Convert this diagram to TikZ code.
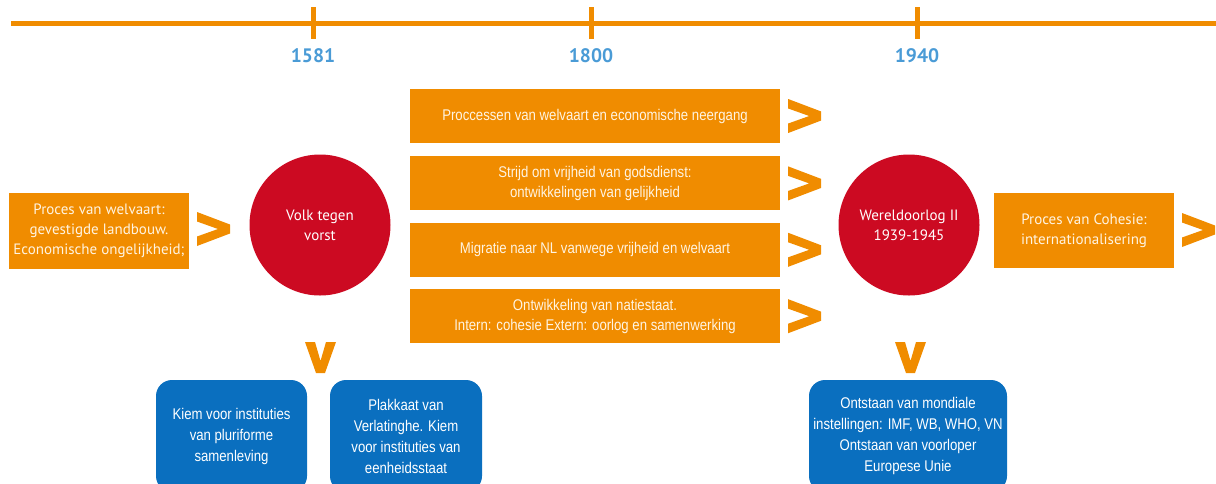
\documentclass[tikz,border=0pt]{standalone}
\usepackage{fontspec}
\setmainfont{Liberation Sans}[FakeStretch=0.85]
\newfontfamily\frut{PT Sans}
\usetikzlibrary{positioning,calc}
\definecolor{oranje}{HTML}{F08C00}
\definecolor{rood}{HTML}{CC0A22}
\definecolor{blauw}{HTML}{0A6FBF}
\definecolor{jaar}{HTML}{4A9BD6}
\definecolor{room}{HTML}{FFF4E2}
\tikzset{
  proces/.style={fill=oranje, text=room, align=center, inner sep=0pt, font=\fontsize{15.5}{20}\selectfont},
  zijproces/.style={proces, minimum width=180pt, minimum height=76pt, font=\frut\fontsize{15}{20}\selectfont},
  middenproces/.style={proces, minimum width=370pt, minimum height=54pt},
  gebeurtenis/.style={circle, fill=rood, text=white, align=center, minimum size=141pt, inner sep=0pt, font=\frut\fontsize{15}{20}\selectfont},
  instituut/.style={fill=blauw, text=white, align=center, rounded corners=16pt, inner sep=0pt, minimum height=112pt, font=\fontsize{15.5}{21}\selectfont},
  jaartal/.style={text=jaar, font=\frut\bfseries\fontsize{19.5}{24}\selectfont},
  gt/.pic={\fill[oranje] (0,0) -- (33,12.5) -- (33,21.5) -- (0,34) -- (0,24.5) -- (21,17) -- (0,9.5) -- cycle;},
  vee/.pic={\fill[oranje] (0,0) -- (10,0) -- (15.5,19) -- (21,0) -- (31,0) -- (20,31) -- (11,31) -- cycle;}
}
\begin{document}
\begin{tikzpicture}[x=1pt,y=-1pt]
\path[use as bounding box, clip] (0,0) rectangle (1216,483);
% tijdlijn
\draw[oranje, line width=5pt] (11,23) -- (1216,23);
\foreach \x/\jr in {313/1581, 591/1800, 917/1940}{
  \draw[oranje, line width=5pt] (\x,7) -- (\x,39);
  \node[jaartal] (j\jr) at (\x,56) {\jr};
}
\node[zijproces] (welvaart) at (99,231) {Proces van welvaart:\\gevestigde landbouw.\\Economische ongelijkheid;};
\pic at (197,212) {gt};
\node[gebeurtenis] (volk) at (320,225) {Volk tegen\\vorst};
\node[middenproces] (m1) at (595,116) {Proccessen van welvaart en economische neergang};
\node[middenproces, below=13pt of m1] (m2) {Strijd om vrijheid van godsdienst:\\ontwikkelingen van gelijkheid};
\node[middenproces, below=12pt of m2] (m3) {Migratie naar NL vanwege vrijheid en welvaart};
\node[middenproces, below=12pt of m3] (m4) {Ontwikkeling van natiestaat.\\Intern: cohesie Extern: oorlog en samenwerking};
\foreach \m in {m1,m2,m3,m4}
  \pic at ($(\m.east)+(8,-17)$) {gt};
\node[gebeurtenis] (oorlog) at (909,225) {Wereldoorlog II\\1939-1945};
\node[zijproces, minimum height=75pt] (cohesie) at (1084,230.5) {Proces van Cohesie:\\internationalisering};
\pic at (1182,213) {gt};
\pic at (305,342) {vee};
\pic at (895,342) {vee};
\node[instituut, minimum width=151pt] (kiem) at (231.5,436) {Kiem voor instituties\\van pluriforme\\samenleving};
\node[instituut, minimum width=152pt] (plakkaat) at (406,436) {Plakkaat van\\Verlatinghe. Kiem\\voor instituties van\\eenheidsstaat};
\node[instituut, minimum width=198pt] (mondiaal) at (908,436) {Ontstaan van mondiale\\instellingen: IMF, WB, WHO, VN\\Ontstaan van voorloper\\Europese Unie};
\end{tikzpicture}
\end{document}
